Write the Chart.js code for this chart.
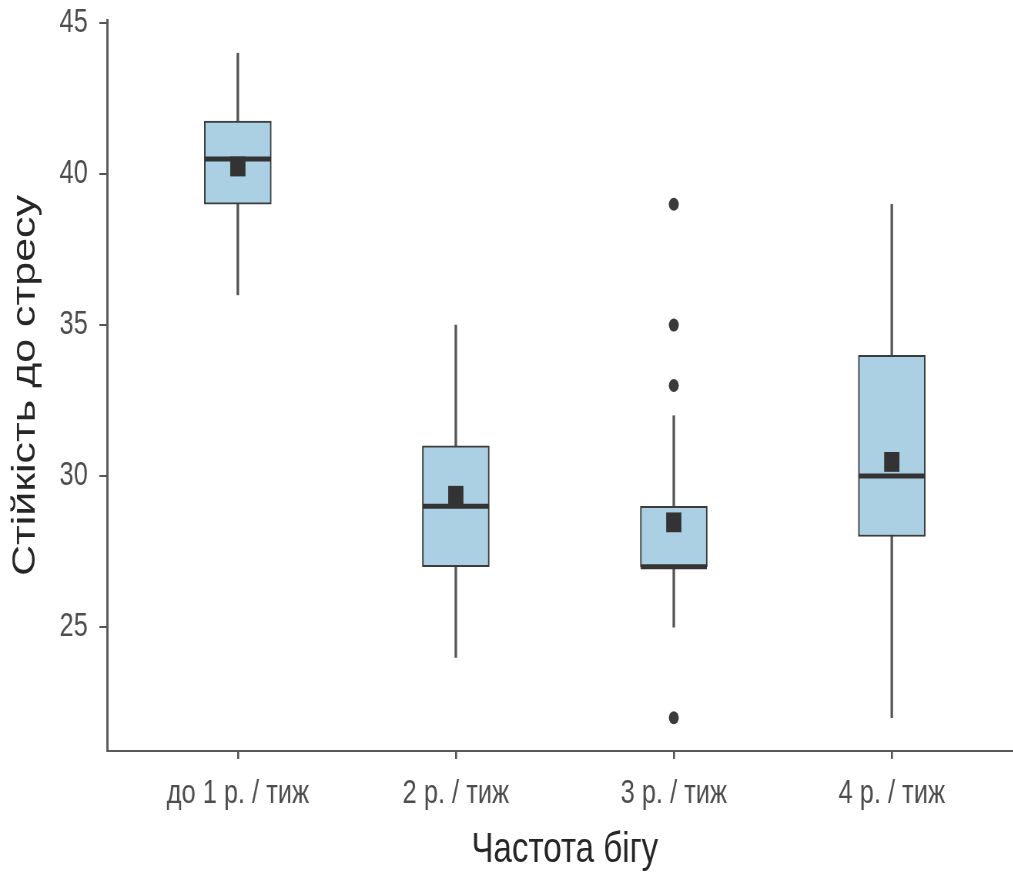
<!DOCTYPE html>
<html>
<head>
<meta charset="utf-8">
<script src="https://cdn.jsdelivr.net/npm/chart.js@4.4.1/dist/chart.umd.min.js"></script>
<style>
html, body { margin: 0; padding: 0; overflow: hidden; background: #ffffff; width: 1013px; height: 876px; }
#wrap { position: absolute; left: 0; top: 0; width: 1345px; height: 876px; transform: scaleX(0.77); transform-origin: 0 0; }
</style>
</head>
<body>
<div id="wrap"><canvas id="c" width="1345" height="876"></canvas></div>
<script>
// ---- data ----
const categories = ['до 1 р. / тиж', '2 р. / тиж', '3 р. / тиж', '4 р. / тиж'];
const whiskerLow  = [36, 24, 25, 22];
const q1          = [39, 27, 27, 28];
const median      = [40.5, 29, 27, 30];
const q3          = [41.75, 31, 29, 34];
const whiskerHigh = [44, 35, 32, 39];
const means       = [40.25, 29.35, 28.47, 30.47];
const outlierGroup  = [3, 3, 3, 3];
const outlierValues = [39, 35, 33, 22];
const yTicks = [25, 30, 35, 40, 45];
const xTitle = 'Частота бігу';
const yTitle = 'Стійкість до стресу';

const pos = categories.map((c, i) => i + 1);

const tickFont = { family: 'Liberation Sans, Arial, sans-serif', size: 33 };
const titleFont = { family: 'Liberation Sans, Arial, sans-serif', size: 43 };

new Chart(document.getElementById('c'), {
  type: 'scatter',
  data: {
    datasets: [
      {
        type: 'bar',
        label: 'whiskers',
        data: pos.map((x, i) => ({ x: x, y: [whiskerLow[i], whiskerHigh[i]] })),
        backgroundColor: '#555555',
        borderWidth: 0,
        barThickness: 2.6,
        grouped: false,
        order: 5
      },
      {
        type: 'bar',
        label: 'boxes',
        data: pos.map((x, i) => ({ x: x, y: [q1[i], q3[i]] })),
        backgroundColor: '#abcfe3',
        borderColor: '#3c3c3c',
        borderWidth: 2,
        borderSkipped: false,
        barThickness: 87,
        grouped: false,
        order: 4
      },
      {
        label: 'median',
        data: pos.map((x, i) => ({ x: x, y: median[i] })),
        pointStyle: 'line',
        pointRadius: 43,
        pointBorderWidth: 5,
        pointBorderColor: '#333333',
        pointBackgroundColor: '#333333',
        order: 3
      },
      {
        label: 'mean',
        data: pos.map((x, i) => ({ x: x, y: means[i] })),
        pointStyle: 'rect',
        pointRadius: 14,
        pointBorderWidth: 0,
        pointBackgroundColor: '#333333',
        order: 2
      },
      {
        label: 'outliers',
        data: outlierGroup.map((g, i) => ({ x: g, y: outlierValues[i] })),
        pointStyle: 'circle',
        pointRadius: 6.5,
        pointBorderWidth: 0,
        pointBackgroundColor: '#3a3a3a',
        order: 1
      }
    ]
  },
  options: {
    responsive: false,
    animation: false,
    events: [],
    layout: { autoPadding: false, padding: { top: 20, right: 17, left: 0, bottom: 0 } },
    plugins: { legend: { display: false }, tooltip: { enabled: false } },
    scales: {
      x: {
        type: 'linear',
        offset: false,
        min: 0.4,
        max: 4.6,
        afterBuildTicks: s => { s.ticks = pos.map(v => ({ value: v })); },
        afterFit: s => { s.height = 125; s.paddingLeft = 0; s.paddingRight = 0; },
        ticks: {
          callback: v => categories[Math.round(v) - 1],
          font: tickFont,
          color: '#4d4d4d',
          padding: 15,
          maxRotation: 0,
          autoSkip: false
        },
        grid: { offset: false, drawOnChartArea: false, drawTicks: true, tickLength: 8, color: '#555555', lineWidth: 2.6 },
        border: { display: true, color: '#5a5a5a', width: 2 },
        title: { display: true, text: xTitle, font: titleFont, color: '#262626', padding: { top: 0, bottom: 0 } }
      },
      y: {
        type: 'linear',
        min: 20.9,
        max: 45.1,
        afterBuildTicks: s => { s.ticks = yTicks.map(v => ({ value: v })); },
        afterFit: s => { s.width = 139; s.paddingTop = 0; s.paddingBottom = 0; },
        ticks: { font: tickFont, color: '#4d4d4d', padding: 15 },
        grid: { drawOnChartArea: false, drawTicks: true, tickLength: 10, color: '#555555', lineWidth: 2 },
        border: { display: true, color: '#5a5a5a', width: 3 },
        title: { display: true, text: yTitle, font: titleFont, color: '#262626', padding: { top: 7, bottom: 0 } }
      }
    }
  }
});
</script>
</body>
</html>
